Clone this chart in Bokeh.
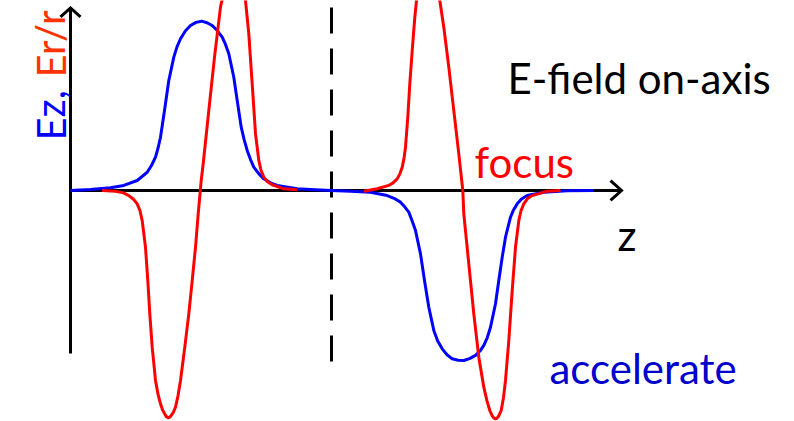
from bokeh.plotting import figure
from bokeh.models import Range1d
from bokeh.core.properties import value
from bokeh.embed import file_html
from bokeh.resources import INLINE

# On-axis field of a two-gap lens: longitudinal Ez and radial Er/r (normalised)
z_ez = [-26.1, -24.1, -22.1, -20.77, -19.43, -18.43, -18.0, -17.6, -17.35, -17.1,
        -16.7, -16.27, -15.77, -15.45, -15.1, -14.6, -14.1, -13.55, -13.0, -12.45,
        -11.93, -11.45, -10.93, -10.6, -10.27, -9.77, -9.43, -9.03, -8.73, -8.43,
        -8.1, -7.77, -7.27, -6.77, -6.1, -5.43, -3.43, -2.1, 0.0, 1.9,
        3.9, 5.57, 6.25, 6.9, 7.3, 7.73, 8.05, 8.4, 8.9, 9.3,
        9.73, 10.23, 10.62, 11.07, 11.55, 12.07, 12.65, 13.23, 13.8, 14.4,
        14.85, 15.23, 15.58, 15.9, 16.4, 16.73, 17.07, 17.4, 17.9, 18.2,
        18.57, 19.0, 19.57, 21.23, 23.57, 26.23]
ez = [0.0, 0.006, 0.016, 0.030, 0.059, 0.108, 0.148, 0.197, 0.250, 0.315,
      0.473, 0.651, 0.789, 0.850, 0.898, 0.945, 0.976, 0.995, 1.002, 0.993,
      0.976, 0.948, 0.907, 0.864, 0.809, 0.670, 0.533, 0.375, 0.300, 0.237,
      0.183, 0.138, 0.100, 0.069, 0.045, 0.030, 0.010, 0.006, 0.0, -0.004,
      -0.010, -0.030, -0.046, -0.069, -0.095, -0.128, -0.178, -0.237, -0.375, -0.533,
      -0.691, -0.828, -0.890, -0.937, -0.972, -0.996, -1.004, -1.006, -0.995, -0.976,
      -0.950, -0.917, -0.870, -0.809, -0.670, -0.533, -0.395, -0.276, -0.158, -0.115,
      -0.079, -0.050, -0.030, -0.010, -0.002, 0.0]

# Er/r, entrance lens (left) and exit lens (right)
z_er1 = [-22.93, -21.6, -20.8, -20.27, -19.8, -19.43, -19.15, -18.93, -18.6, -18.37,
         -18.17, -17.93, -17.6, -17.35, -17.1, -16.9, -16.7, -16.52, -16.33, -16.14,
         -15.95, -15.78, -15.6, -15.35, -15.1, -14.67, -14.27, -13.93, -13.6, -13.33,
         -13.03, -12.83, -12.27, -11.7, -11.1, -10.5, -9.8, -9.1, -8.6, -8.27,
         -7.93, -7.6, -7.27, -7.05, -6.77, -6.4, -5.93, -4.77, -3.43]
er1 = [0.0, -0.004, -0.014, -0.030, -0.052, -0.079, -0.120, -0.178, -0.336, -0.533,
       -0.730, -0.927, -1.124, -1.205, -1.262, -1.297, -1.320, -1.338, -1.345, -1.340,
       -1.325, -1.308, -1.282, -1.215, -1.124, -0.927, -0.730, -0.533, -0.336, -0.138,
       0.059, 0.158, 0.473, 0.789, 1.085, 1.254, 1.349, 1.254, 1.124, 0.927,
       0.631, 0.336, 0.178, 0.120, 0.079, 0.052, 0.034, 0.010, 0.004]

z_er2 = [3.23, 4.57, 5.73, 6.15, 6.57, 6.85, 7.07, 7.25, 7.4, 7.63,
         7.83, 8.07, 8.33, 8.5, 9.0, 9.7, 10.4, 10.83, 11.23, 11.73,
         12.23, 12.73, 13.13, 13.23, 13.73, 14.23, 14.73, 15.23, 15.55, 15.83,
         16.1, 16.25, 16.4, 16.55, 16.7, 16.97, 17.2, 17.4, 17.73, 18.07,
         18.4, 18.73, 18.95, 19.23, 19.6, 20.07, 21.57, 22.9]
er2 = [-0.004, 0.010, 0.030, 0.045, 0.069, 0.100, 0.138, 0.190, 0.256, 0.434,
       0.631, 0.828, 1.025, 1.124, 1.272, 1.349, 1.272, 1.124, 0.966, 0.730,
       0.473, 0.217, 0.0, -0.138, -0.434, -0.730, -0.986, -1.164, -1.245, -1.302,
       -1.336, -1.347, -1.351, -1.347, -1.336, -1.302, -1.225, -1.124, -0.888, -0.592,
       -0.336, -0.178, -0.120, -0.079, -0.048, -0.030, -0.004, 0.0]

BLUE = "#0000ff"
RED = "#ff0000"
FONT = value("Lato")

# frame: z from -33.1 to 46.3, field from -1.367 to 1.124
p = figure(width=794, height=421, x_range=Range1d(-33.1, 46.3),
           y_range=Range1d(-1.3669, 1.1243), output_backend="svg",
           toolbar_location=None, x_axis_type=None, y_axis_type=None,
           min_border=0)
p.grid.visible = False
p.outline_line_color = None
p.background_fill_color = "white"
p.border_fill_color = "white"

# hand-drawn style axes with open arrow heads
Z0, Z_TIP = -26.1, 29.0
E_BOT, E_TIP = -0.9645, 1.08
DZ, DE = 1.0, 0.059
p.line([Z0, Z0], [E_BOT, E_TIP], line_color="black", line_width=3)
p.line([Z0, Z_TIP], [0, 0], line_color="black", line_width=3)
p.line([Z0 - DZ, Z0, Z0 + DZ], [E_TIP - 0.053, E_TIP, E_TIP - 0.053],
       line_color="black", line_width=3, line_join="miter")
p.line([Z_TIP - 1.1, Z_TIP, Z_TIP - 1.1], [DE, 0, -DE],
       line_color="black", line_width=3, line_join="miter")

# mid-plane of the gap
p.line([0, 0], [1.083, -1.024], line_color="black", line_width=3,
       line_dash="26 15")

p.line(z_ez, ez, line_color=BLUE, line_width=3, line_join="round")
p.line(z_er1, er1, line_color=RED, line_width=3, line_join="round")
p.line(z_er2, er2, line_color=RED, line_width=3, line_join="round")

def label(x, y, s, color, angle=0.0, size="42px"):
    p.text(x=[x], y=[y], text=[s], text_color=color, text_font=FONT,
           text_font_size=value(size), text_align="left",
           text_baseline="alphabetic", angle=angle)

label(17.6, 0.667, "E-field on-axis", "black")
label(14.3, 0.167, "focus", RED)
label(21.8, -1.053, "accelerate", "#0000cc")
label(28.6, -0.266, "z", "black")
label(-28.1, 0.296, "Ez,", BLUE, angle=1.5708, size="40px")
label(-28.1, 0.669, "Er/r", "#ff3300", angle=1.5708, size="40px")

open("out.html", "w").write(file_html(p, INLINE))
